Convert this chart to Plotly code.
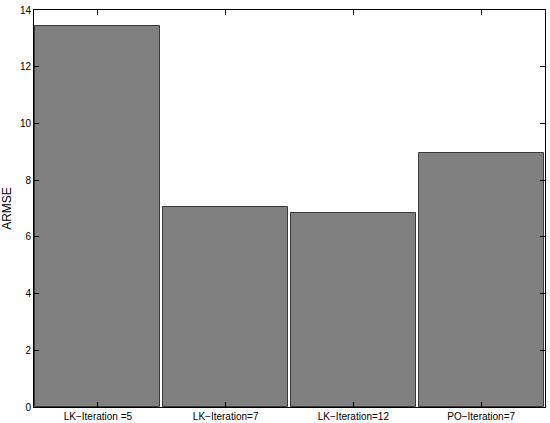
import plotly.graph_objects as go

categories = ["LK\u2212Iteration =5", "LK\u2212Iteration=7", "LK\u2212Iteration=12", "PO\u2212Iteration=7"]
armse = [13.43, 7.05, 6.85, 8.97]
y_ticks = [0, 2, 4, 6, 8, 10, 12, 14]

xpos = list(range(1, len(categories) + 1))

fig = go.Figure()
fig.add_trace(go.Bar(
    x=xpos, y=armse, width=0.98,
    marker=dict(color="#808080", line=dict(color="#3a3a3a", width=1)),
))

fig.update_layout(
    width=550, height=423,
    margin=dict(l=34, r=5, t=10, b=16, autoexpand=False),
    paper_bgcolor="white", plot_bgcolor="white",
    showlegend=False, bargap=0,
    font=dict(family="Liberation Sans, Arial, sans-serif", size=10, color="black"),
)
fig.update_xaxes(
    range=[0.5, 4.5], tickmode="array", tickvals=xpos, ticktext=categories,
    showline=True, linecolor="black", linewidth=1, mirror="ticks",
    ticks="inside", ticklen=5, tickcolor="black", showgrid=False, zeroline=False,
    automargin=False, ticklabelstandoff=0,
)
fig.update_yaxes(
    range=[0, 14], tickmode="array", tickvals=y_ticks,
    showline=True, linecolor="black", linewidth=1, mirror="ticks",
    ticks="inside", ticklen=5, tickcolor="black", showgrid=False, zeroline=False,
    automargin=False,
    title=dict(text="ARMSE", standoff=8),
)

fig.write_html(
    "out.html",
    config={"displayModeBar": False},
    post_script="document.body.style.margin='0';document.body.style.overflow='hidden';",
)
